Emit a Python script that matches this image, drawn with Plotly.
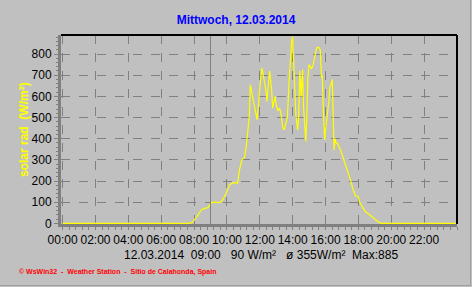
import plotly.graph_objects as go

# ---- data ----
hours = [0, 7.7, 7.9, 8.03, 8.2, 8.44, 8.6, 8.84, 9.05, 9.25, 9.55, 9.73, 9.95, 10.15, 10.35,
         10.65, 10.76, 10.9, 11.06, 11.16, 11.26, 11.36, 11.42, 11.48, 11.54, 11.65, 11.77,
         11.83, 11.9, 11.97, 12.05, 12.13, 12.2, 12.27, 12.37, 12.43, 12.5, 12.6, 12.65, 12.72,
         12.78, 12.84, 12.93, 13.0, 13.1, 13.2, 13.3, 13.4, 13.48, 13.59, 13.68, 13.79, 13.85,
         13.93, 13.99, 14.04, 14.15, 14.2, 14.23, 14.3, 14.36, 14.43, 14.52, 14.6, 14.66, 14.74,
         14.8, 14.86, 14.92, 15.0, 15.08, 15.15, 15.25, 15.35, 15.4, 15.46, 15.58, 15.68, 15.75,
         15.8, 15.86, 15.95, 16.0, 16.1, 16.2, 16.27, 16.35, 16.41, 16.47, 16.52, 16.58, 16.65,
         16.75, 16.85, 16.95, 17.05, 17.15, 17.25, 17.35, 17.45, 17.55, 17.65, 17.75, 17.83,
         17.98, 18.07, 18.23, 18.43, 18.6, 18.74, 18.9, 19.04, 19.24, 19.4, 24]
solar = [0, 0, 5, 16, 35, 63, 70, 74, 98, 100, 98, 110, 142, 181, 192,
         190, 252, 300, 310, 355, 442, 505, 655, 631, 608, 560, 505,
         490, 545, 631, 680, 735, 700, 680, 631, 576, 640, 720, 680, 631,
         545, 576, 600, 560, 532, 545, 513, 450, 442, 473, 505, 680, 782,
         853, 884, 782, 631, 505, 490, 442, 490, 720, 600, 727, 550, 442,
         387, 505, 680, 750, 742, 730, 750, 782, 805, 829, 832, 820, 690,
         700, 545, 394, 442, 505, 576, 647, 660, 680, 505, 347, 400, 379,
         375, 360, 339, 315, 292, 268, 245, 220, 197, 165, 140, 129,
         128, 102, 79, 55, 45, 36, 28, 19, 5, 0, 0]
x_tickvals = [0, 2, 4, 6, 8, 10, 12, 14, 16, 18, 20, 22]
x_ticktext = ["00:00", "02:00", "04:00", "06:00", "08:00", "10:00", "12:00",
              "14:00", "16:00", "18:00", "20:00", "22:00"]
y_tickvals = [0, 100, 200, 300, 400, 500, 600, 700, 800]
cursor_hour = 9
title_text = "Mittwoch, 12.03.2014"
info_text = "12.03.2014  09:00   90 W/m²   ø 355W/m²  Max:885"
footer_text = "© WsWin32  -  Weather Station  -  Sitio de Calahonda, Spain"
y_title = "solar rad  (W/m²)"

BG = "#C0C0C0"
GRID = "#808080"
L, R, T, B = 61, 15, 35, 63
W, H = 472, 287
PW, PH = W - L - R, H - T - B

def px_x(p):
    return (p - L) / PW

def px_y(p):
    return (H - B - p) / PH

fig = go.Figure()
fig.add_trace(go.Scatter(x=hours, y=solar, mode="lines",
                         line=dict(color="#FFFF00", width=1.2), hoverinfo="skip"))

fig.update_layout(
    width=W, height=H,
    margin=dict(l=L, r=R, t=T, b=B, pad=0),
    paper_bgcolor=BG, plot_bgcolor=BG,
    showlegend=False,
    font=dict(family="Liberation Sans, Arial", size=12, color="black"),
    title=dict(text="<b>" + title_text + "</b>", x=0.5, xref="container", xanchor="center",
               y=1 - 20 / H, yref="container", yanchor="middle",
               font=dict(family="Liberation Sans, Arial", size=12, color="#0000FF")),
    xaxis=dict(range=[-0.1, 24], tickvals=x_tickvals, ticktext=x_ticktext,
               showgrid=True, gridcolor=GRID, griddash="dash", gridwidth=1,
               showline=True, linecolor=GRID, linewidth=3,
               ticks="outside", ticklen=3, tickcolor=GRID, tickwidth=1,
               minor=dict(dtick=0.4, ticks="outside", ticklen=3, tickcolor=GRID, showgrid=False),
               ticklabelstandoff=0,
               zeroline=False, fixedrange=True, tickfont=dict(size=12)),
    yaxis=dict(range=[-3, 890], tickvals=y_tickvals,
               showgrid=True, gridcolor=GRID, griddash="dash", gridwidth=1,
               showline=True, linecolor=GRID, linewidth=3,
               ticks="outside", ticklen=4, tickcolor=GRID, tickwidth=1,
               minor=dict(dtick=20, ticks="outside", ticklen=2, tickcolor=GRID, showgrid=False),
               zeroline=False, fixedrange=True, tickfont=dict(size=12)),
    shapes=[
        dict(type="line", xref="x", yref="paper", x0=cursor_hour, x1=cursor_hour, y0=0, y1=1,
             line=dict(color=GRID, width=1)),
        dict(type="line", xref="paper", yref="paper", x0=0, x1=1, y0=1, y1=1,
             line=dict(color="black", width=2)),
        dict(type="line", xref="paper", yref="paper", x0=1, x1=1, y0=0, y1=1,
             line=dict(color="black", width=2)),
        dict(type="line", xref="paper", yref="paper", x0=px_x(0), x1=px_x(471), y0=px_y(285.5),
             y1=px_y(285.5), line=dict(color="#A0A0A0", width=1)),
        dict(type="line", xref="paper", yref="paper", x0=px_x(470.5), x1=px_x(470.5),
             y0=px_y(0), y1=px_y(286), line=dict(color="#A0A0A0", width=1)),
    ],
    annotations=[
        dict(text="<b>" + y_title + "</b>", textangle=-90, xref="paper", yref="paper",
             x=px_x(24), y=px_y(130), xanchor="center", yanchor="middle", showarrow=False,
             font=dict(size=12, color="#FFFF00")),
        dict(text=info_text, xref="paper", yref="paper", x=px_x(122), y=px_y(255),
             xanchor="left", yanchor="middle", showarrow=False,
             font=dict(size=12, color="black")),
        dict(text="<b>" + footer_text + "</b>", xref="paper", yref="paper", x=px_x(17),
             y=px_y(272), xanchor="left", yanchor="middle", showarrow=False,
             font=dict(size=7, color="#FF0000")),
    ],
)

fig.write_html("out.html")
